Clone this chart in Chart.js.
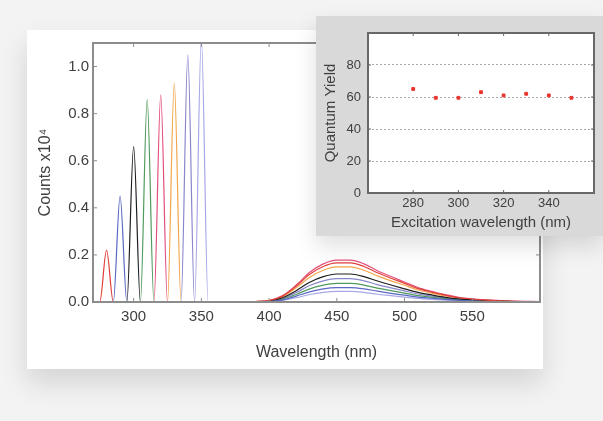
<!DOCTYPE html>
<html>
<head>
<meta charset="utf-8">
<script src="https://cdn.jsdelivr.net/npm/chart.js@4"></script>
<style>
body{margin:0;width:603px;height:421px;background:#f3f3f3;overflow:hidden;position:relative;font-family:"Liberation Sans",Arial,sans-serif}
#main{position:absolute;left:27px;top:30px;width:516px;height:339px;background:#fff;box-shadow:0 14px 26px rgba(0,0,0,0.13)}
#inset{position:absolute;left:316px;top:16px;width:287px;height:220px;background:#d9d9d9;box-shadow:0 10px 22px rgba(0,0,0,0.13)}
canvas{position:absolute;left:0;top:0}
</style>
</head>
<body>
<div id="main"><canvas id="spectra" width="516" height="339"></canvas></div>
<div id="inset"><canvas id="yield" width="287" height="220"></canvas></div>
<script>
// excitation peaks (x10^4 counts)
const excitationNm = [280, 290, 300, 310, 320, 330, 340, 350];
const peakCounts = [0.22, 0.45, 0.66, 0.86, 0.88, 0.93, 1.05, 1.12];
const lineColors = ["#e0403a", "#5a68c4", "#1e1e1e", "#4f9a5c", "#e2507a", "#f2a64a", "#8a86cc", "#a8a8e6"];

// emission bands
const emissionNm = [370, 390, 400, 410, 420, 430, 440, 450, 460, 470, 480, 490, 500, 510, 520, 530, 540, 560, 580, 600];
const emission280 = [0, 0.002, 0.006, 0.025, 0.067, 0.118, 0.151, 0.166, 0.166, 0.151, 0.124, 0.101, 0.079, 0.057, 0.042, 0.029, 0.018, 0.008, 0.003, 0.002];
const emission290 = [0, 0.001, 0.002, 0.009, 0.025, 0.043, 0.056, 0.061, 0.061, 0.056, 0.046, 0.037, 0.029, 0.021, 0.016, 0.011, 0.007, 0.003, 0.001, 0];
const emission300 = [0, 0.001, 0.004, 0.018, 0.048, 0.084, 0.108, 0.119, 0.119, 0.108, 0.089, 0.072, 0.056, 0.041, 0.030, 0.020, 0.013, 0.006, 0.002, 0.001];
const emission310 = [0, 0.001, 0.002, 0.012, 0.032, 0.056, 0.072, 0.079, 0.079, 0.072, 0.059, 0.048, 0.038, 0.027, 0.020, 0.014, 0.009, 0.004, 0.002, 0.001];
const emission320 = [0, 0.002, 0.006, 0.027, 0.072, 0.126, 0.162, 0.178, 0.178, 0.162, 0.133, 0.108, 0.085, 0.061, 0.045, 0.031, 0.020, 0.009, 0.004, 0.002];
const emission330 = [0, 0.002, 0.005, 0.023, 0.060, 0.105, 0.135, 0.149, 0.149, 0.135, 0.111, 0.090, 0.071, 0.051, 0.038, 0.026, 0.017, 0.008, 0.003, 0.002];
const emission340 = [0, 0.001, 0.003, 0.015, 0.040, 0.070, 0.090, 0.099, 0.099, 0.090, 0.074, 0.060, 0.047, 0.034, 0.025, 0.017, 0.011, 0.005, 0.002, 0.001];
const emission350 = [0, 0, 0.001, 0.007, 0.018, 0.032, 0.041, 0.045, 0.045, 0.041, 0.033, 0.027, 0.021, 0.015, 0.011, 0.008, 0.005, 0.002, 0.001, 0];
const emissions = [emission280, emission290, emission300, emission310, emission320, emission330, emission340, emission350];

const wavelengthTicks = [300, 350, 400, 450, 500, 550];
const countTicks = [0, 0.2, 0.4, 0.6, 0.8, 1.0];

// quantum yield inset
const quantumYield = [65, 59.5, 59.5, 63, 61, 62, 61, 59.5];
const excitationTicks = [280, 300, 320, 340];
const yieldTicks = [0, 20, 40, 60, 80];

const textColor = "#404040";
const fontFam = "'Liberation Sans', Arial, sans-serif";

// frame + inward tick marks round the plot area
const framePlugin = {
    id: 'frame',
    beforeDraw(chart, args, opts) {
        if (!opts.fill) return;
        const a = chart.chartArea, ctx = chart.ctx;
        ctx.save();
        ctx.fillStyle = opts.fill;
        ctx.fillRect(a.left, a.top, a.right - a.left, a.bottom - a.top);
        ctx.restore();
    },
    afterDraw(chart, args, opts) {
        const a = chart.chartArea, ctx = chart.ctx;
        ctx.save();
        ctx.strokeStyle = opts.color;
        ctx.lineWidth = opts.width;
        ctx.strokeRect(a.left, a.top, a.right - a.left, a.bottom - a.top);
        ctx.lineWidth = 1;
        const len = opts.tick;
        chart.scales.x.ticks.forEach(t => {
            const px = chart.scales.x.getPixelForValue(t.value);
            ctx.beginPath();
            ctx.moveTo(px, a.bottom); ctx.lineTo(px, a.bottom - len);
            ctx.moveTo(px, a.top); ctx.lineTo(px, a.top + len);
            ctx.stroke();
        });
        chart.scales.y.ticks.forEach(t => {
            const py = chart.scales.y.getPixelForValue(t.value);
            ctx.beginPath();
            ctx.moveTo(a.left, py); ctx.lineTo(a.left + len, py);
            ctx.moveTo(a.right, py); ctx.lineTo(a.right - len, py);
            ctx.stroke();
        });
        ctx.restore();
    }
};

// build one spectrum per excitation wavelength
var spectra = [];
for (var i = 0; i < excitationNm.length; i++) {
    var ex = excitationNm[i];
    var pts = [{x: 270, y: 0}, {x: ex - 5, y: 0}, {x: ex, y: peakCounts[i]}, {x: ex + 5, y: 0}];
    for (var j = 0; j < emissionNm.length; j++) {
        pts.push({x: emissionNm[j], y: emissions[i][j]});
    }
    spectra.push({
        data: pts,
        borderColor: lineColors[i],
        borderWidth: 1.2,
        pointRadius: 0,
        fill: false,
        cubicInterpolationMode: 'monotone'
    });
}

new Chart(document.getElementById('spectra'), {
    type: 'line',
    data: { datasets: spectra },
    plugins: [framePlugin],
    options: {
        responsive: false,
        animation: false,
        layout: { padding: { top: 7, right: 3, left: 0, bottom: 0 } },
        plugins: {
            legend: { display: false },
            tooltip: { enabled: false },
            frame: { color: "#8c8c8c", width: 2, tick: 4 }
        },
        scales: {
            x: {
                type: 'linear', min: 270, max: 600,
                afterBuildTicks: s => { s.ticks = wavelengthTicks.map(v => ({value: v})); },
                afterFit: s => { s.height = 67; },
                grid: { display: false, drawTicks: false },
                border: { display: false },
                ticks: { color: textColor, padding: 6, maxRotation: 0, font: { size: 15, family: fontFam } },
                title: { display: true, text: 'Wavelength (nm)', color: textColor, padding: { top: 0, bottom: 7 }, font: { size: 16, family: fontFam } }
            },
            y: {
                min: 0, max: 1.1,
                afterBuildTicks: s => { s.ticks = countTicks.map(v => ({value: v})); },
                afterFit: s => { s.width = 66; },
                grid: { display: false, drawTicks: false },
                border: { display: false },
                ticks: { color: textColor, padding: 4, font: { size: 15, family: fontFam }, callback: v => v.toFixed(1) },
                title: { display: true, text: 'Counts x10\u2074', color: textColor, padding: { top: 9, bottom: 0 }, font: { size: 16, family: fontFam } }
            }
        }
    }
});

new Chart(document.getElementById('yield'), {
    type: 'scatter',
    data: {
        datasets: [{
            data: excitationNm.map((x, i) => ({x: x, y: quantumYield[i]})),
            backgroundColor: "#e8342c",
            borderColor: "#e8342c",
            pointStyle: 'rect',
            pointRadius: 2
        }]
    },
    plugins: [framePlugin],
    options: {
        responsive: false,
        animation: false,
        layout: { padding: { top: 17, right: 9, left: 0, bottom: 0 } },
        plugins: {
            legend: { display: false },
            tooltip: { enabled: false },
            frame: { color: "#6a6866", width: 2, tick: 3, fill: "#ffffff" }
        },
        scales: {
            x: {
                type: 'linear', min: 260, max: 360,
                afterBuildTicks: s => { s.ticks = excitationTicks.map(v => ({value: v})); },
                afterFit: s => { s.height = 43; },
                grid: { display: false, drawTicks: false },
                border: { display: false },
                ticks: { color: textColor, padding: 3, maxRotation: 0, font: { size: 13, family: fontFam } },
                title: { display: true, text: 'Excitation wavelength (nm)', color: textColor, padding: { top: 0, bottom: 4 }, font: { size: 15, family: fontFam } }
            },
            y: {
                min: 0, max: 100,
                afterBuildTicks: s => { s.ticks = yieldTicks.map(v => ({value: v})); },
                afterFit: s => { s.width = 52; },
                grid: { display: true, drawTicks: false, color: "#a8a8a8", lineWidth: 1 },
                border: { display: false, dash: [2, 2] },
                ticks: { color: textColor, padding: 7, font: { size: 13, family: fontFam } },
                title: { display: true, text: 'Quantum Yield', color: textColor, padding: { top: 6, bottom: 0 }, font: { size: 15, family: fontFam } }
            }
        }
    }
});
</script>
</body>
</html>
